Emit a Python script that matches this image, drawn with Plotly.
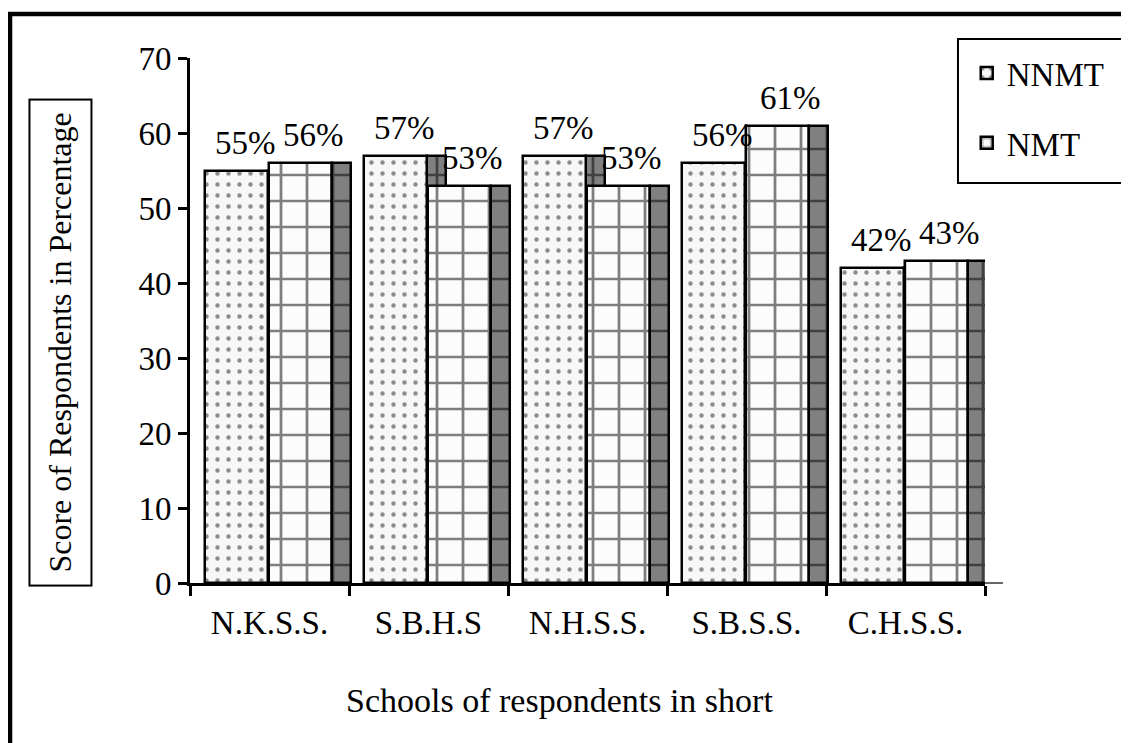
import plotly.graph_objects as go

# ---- data ----
schools = ["N.K.S.S.", "S.B.H.S", "N.H.S.S.", "S.B.S.S.", "C.H.S.S."]
nnmt = [55, 57, 57, 56, 42]
nmt = [56, 53, 53, 61, 43]
nnmt_labels = ["55%", "57%", "57%", "56%", "42%"]
nmt_labels = ["56%", "53%", "53%", "61%", "43%"]
y_ticks = [0, 10, 20, 30, 40, 50, 60, 70]

FONT = "Liberation Serif, Times New Roman, serif"
FS = 33
FW = 0.396   # front face width (category units)
SW = 0.12    # side face width
NNMT_OFF = -0.406
NMT_OFF = -0.003

outline = dict(color="black", width=2.5)
dots = dict(shape=".", size=11, solidity=0.13, fgcolor="#222222", bgcolor="#f7f7f7")
grid = dict(shape="+", size=26, solidity=0.2, fgcolor="black", bgcolor="#fcfcfc")
grid_dark = dict(shape="+", size=26, solidity=0.2, fgcolor="black", bgcolor="#808080")

fig = go.Figure()
# NNMT side face
fig.add_bar(x=schools, y=nnmt, offset=NNMT_OFF + FW, width=SW,
            marker=dict(color="#808080", line=outline, pattern=grid_dark),
            showlegend=False, hoverinfo="skip")
# NNMT front face
fig.add_bar(x=schools, y=nnmt, offset=NNMT_OFF, width=FW, name="NNMT",
            legendgroup="a",
            marker=dict(color="#f7f7f7", line=outline, pattern=dots))
# NMT front face
fig.add_bar(x=schools, y=nmt, offset=NMT_OFF, width=FW, name="NMT",
            legendgroup="b",
            marker=dict(color="#fcfcfc", line=outline, pattern=grid))
# NMT side face
fig.add_bar(x=schools, y=nmt, offset=NMT_OFF + FW, width=SW,
            marker=dict(color="#808080", line=outline, pattern=grid_dark),
            showlegend=False, hoverinfo="skip")

# value labels
for s, v, t in zip(schools, nnmt, nnmt_labels):
    fig.add_annotation(x=s, y=v, text=t, showarrow=False, xshift=-24, yshift=8,
                       yanchor="bottom", font=dict(family=FONT, size=FS, color="black"))
for s, v, t in zip(schools, nmt, nmt_labels):
    fig.add_annotation(x=s, y=v, text=t, showarrow=False, xshift=44, yshift=8,
                       yanchor="bottom", font=dict(family=FONT, size=FS, color="black"))

# axis titles
fig.add_annotation(xref="paper", yref="paper", x=-0.1635, y=0.458,
                   xanchor="center", yanchor="middle",
                   text="Score of Respondents in Percentage", textangle=-90,
                   showarrow=False, bordercolor="black", borderwidth=2, borderpad=12,
                   bgcolor="white",
                   font=dict(family=FONT, size=32, color="black"))
fig.add_annotation(xref="paper", yref="paper", x=0.4654, y=-0.223,
                   xanchor="center", yanchor="middle",
                   text="Schools of respondents in short", showarrow=False,
                   font=dict(family=FONT, size=34, color="black"))

# outer frame (extends beyond image on right/bottom)
fig.add_shape(type="rect", xref="paper", yref="paper", x0=-0.2264, y0=-0.6,
              x1=1.4, y1=1.0838, line=dict(color="black", width=4.5), layer="below")
# legend frame
fig.add_shape(type="rect", xref="paper", yref="paper", x0=0.966, y0=0.762,
              x1=1.176, y1=1.036, line=dict(color="black", width=2), layer="below")
# floor edge extension of the baseline
fig.add_shape(type="line", xref="paper", yref="paper", x0=1.0, y0=0, x1=1.0226, y1=0,
              line=dict(color="#666666", width=2))

fig.update_layout(
    width=1129, height=743,
    margin=dict(l=182, r=152, t=50, b=168),
    paper_bgcolor="white", plot_bgcolor="white",
    barmode="overlay", bargap=0,
    font=dict(family=FONT, size=FS, color="black"),
    legend=dict(x=0.977, y=1.0248, xanchor="left", yanchor="top",
                borderwidth=0, bgcolor="rgba(0,0,0,0)",
                font=dict(family=FONT, size=FS, color="black"),
                tracegroupgap=24, itemwidth=30),
)
fig.update_xaxes(type="category", range=[-0.5, 4.5], showline=True, linecolor="black",
                 linewidth=3, ticks="outside", ticklen=10, tickwidth=2.5, tickcolor="black",
                 tickson="boundaries", showgrid=False, zeroline=False,
                 ticklabelstandoff=8, tickfont=dict(family=FONT, size=FS, color="black"))
fig.update_yaxes(range=[0, 70], tickvals=y_ticks, showline=True, linecolor="black",
                 linewidth=3, ticks="outside", ticklen=9, tickwidth=2.5, tickcolor="black",
                 showgrid=False, zeroline=False,
                 tickfont=dict(family=FONT, size=FS, color="black"))

fig.write_html("out.html")
